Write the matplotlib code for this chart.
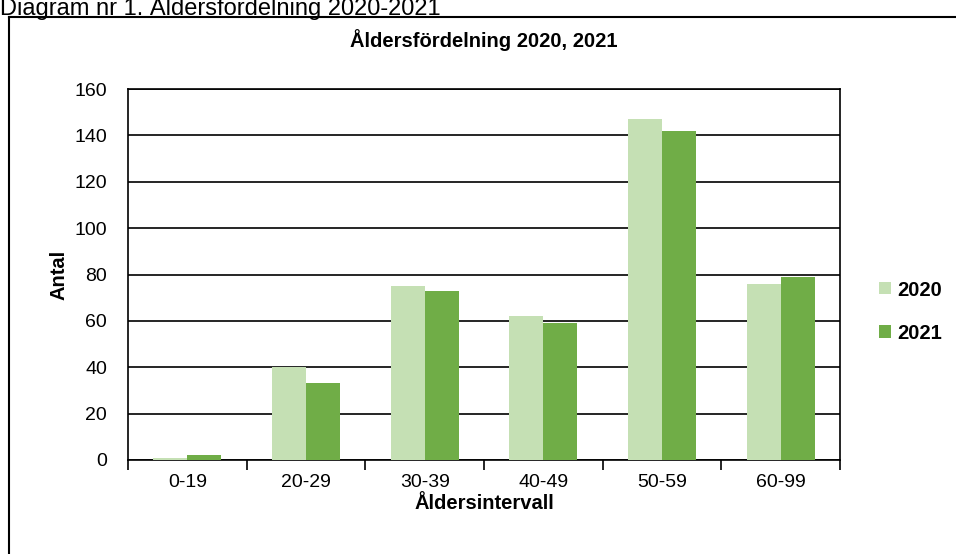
import matplotlib
matplotlib.use("Agg")
from matplotlib import pyplot as plt
from matplotlib.lines import Line2D
import numpy as np

plt.rcParams["font.family"] = ["Liberation Sans", "DejaVu Sans"]

categories = ["0-19", "20-29", "30-39", "40-49", "50-59", "60-99"]
vals_2020 = [1, 40, 75, 62, 147, 76]
vals_2021 = [2, 33, 73, 59, 142, 79]
series_names = ["2020", "2021"]
yticks = [0, 20, 40, 60, 80, 100, 120, 140, 160]

col_2020 = "#C5E0B4"
col_2021 = "#70AD47"

fig = plt.figure(figsize=(9.56, 5.54), dpi=100)
ax = fig.add_axes([128 / 956, 94 / 554, 712 / 956, 371 / 554])

x = np.arange(len(categories))
w = 0.286
ax.bar(x - w / 2, vals_2020, w, color=col_2020, label=series_names[0], zorder=3)
ax.bar(x + w / 2, vals_2021, w, color=col_2021, label=series_names[1], zorder=3)

ax.set_xlim(-0.5, len(categories) - 0.5)
ax.set_ylim(0, 160)
ax.set_yticks(yticks)
ax.tick_params(axis="y", length=0, labelsize=14, pad=15)
ax.yaxis.grid(True, color="black", linewidth=1.2, zorder=1)

# category labels centered, tick marks on boundaries
ax.set_xticks(x)
ax.set_xticklabels(categories, fontsize=14)
ax.tick_params(axis="x", which="major", length=0, pad=10)
ax.set_xticks(np.arange(len(categories) + 1) - 0.5, minor=True)
ax.tick_params(axis="x", which="minor", length=7, width=1.2, direction="out")

for s in ax.spines.values():
    s.set_linewidth(1.2)

ax.set_xlabel("Åldersintervall", fontsize=14.5, fontweight="bold", labelpad=2)
ax.set_ylabel("Antal", fontsize=14.5, fontweight="bold", labelpad=4)
ax.set_title("Åldersfördelning 2020, 2021", fontsize=14.5, fontweight="bold", pad=30)

ax.legend(loc="center left", bbox_to_anchor=(1.03, 0.40), frameon=False,
          prop={"size": 14.5, "weight": "bold"}, handlelength=0.55, handleheight=0.55,
          handletextpad=0.35, labelspacing=1.2)

# outer chart frame (cut off at right and bottom)
fig.add_artist(Line2D([8.5 / 956, 8.5 / 956], [0, 1 - 17 / 554], color="black", lw=1.5,
                      transform=fig.transFigure))
fig.add_artist(Line2D([8.5 / 956, 1], [1 - 17 / 554, 1 - 17 / 554], color="black", lw=1.5,
                      transform=fig.transFigure))
fig.text(0.0, 1 - 15 / 554, "Diagram nr 1. Åldersfördelning 2020-2021", fontsize=17,
         ha="left", va="baseline")

fig.savefig("out.png", dpi=100)
